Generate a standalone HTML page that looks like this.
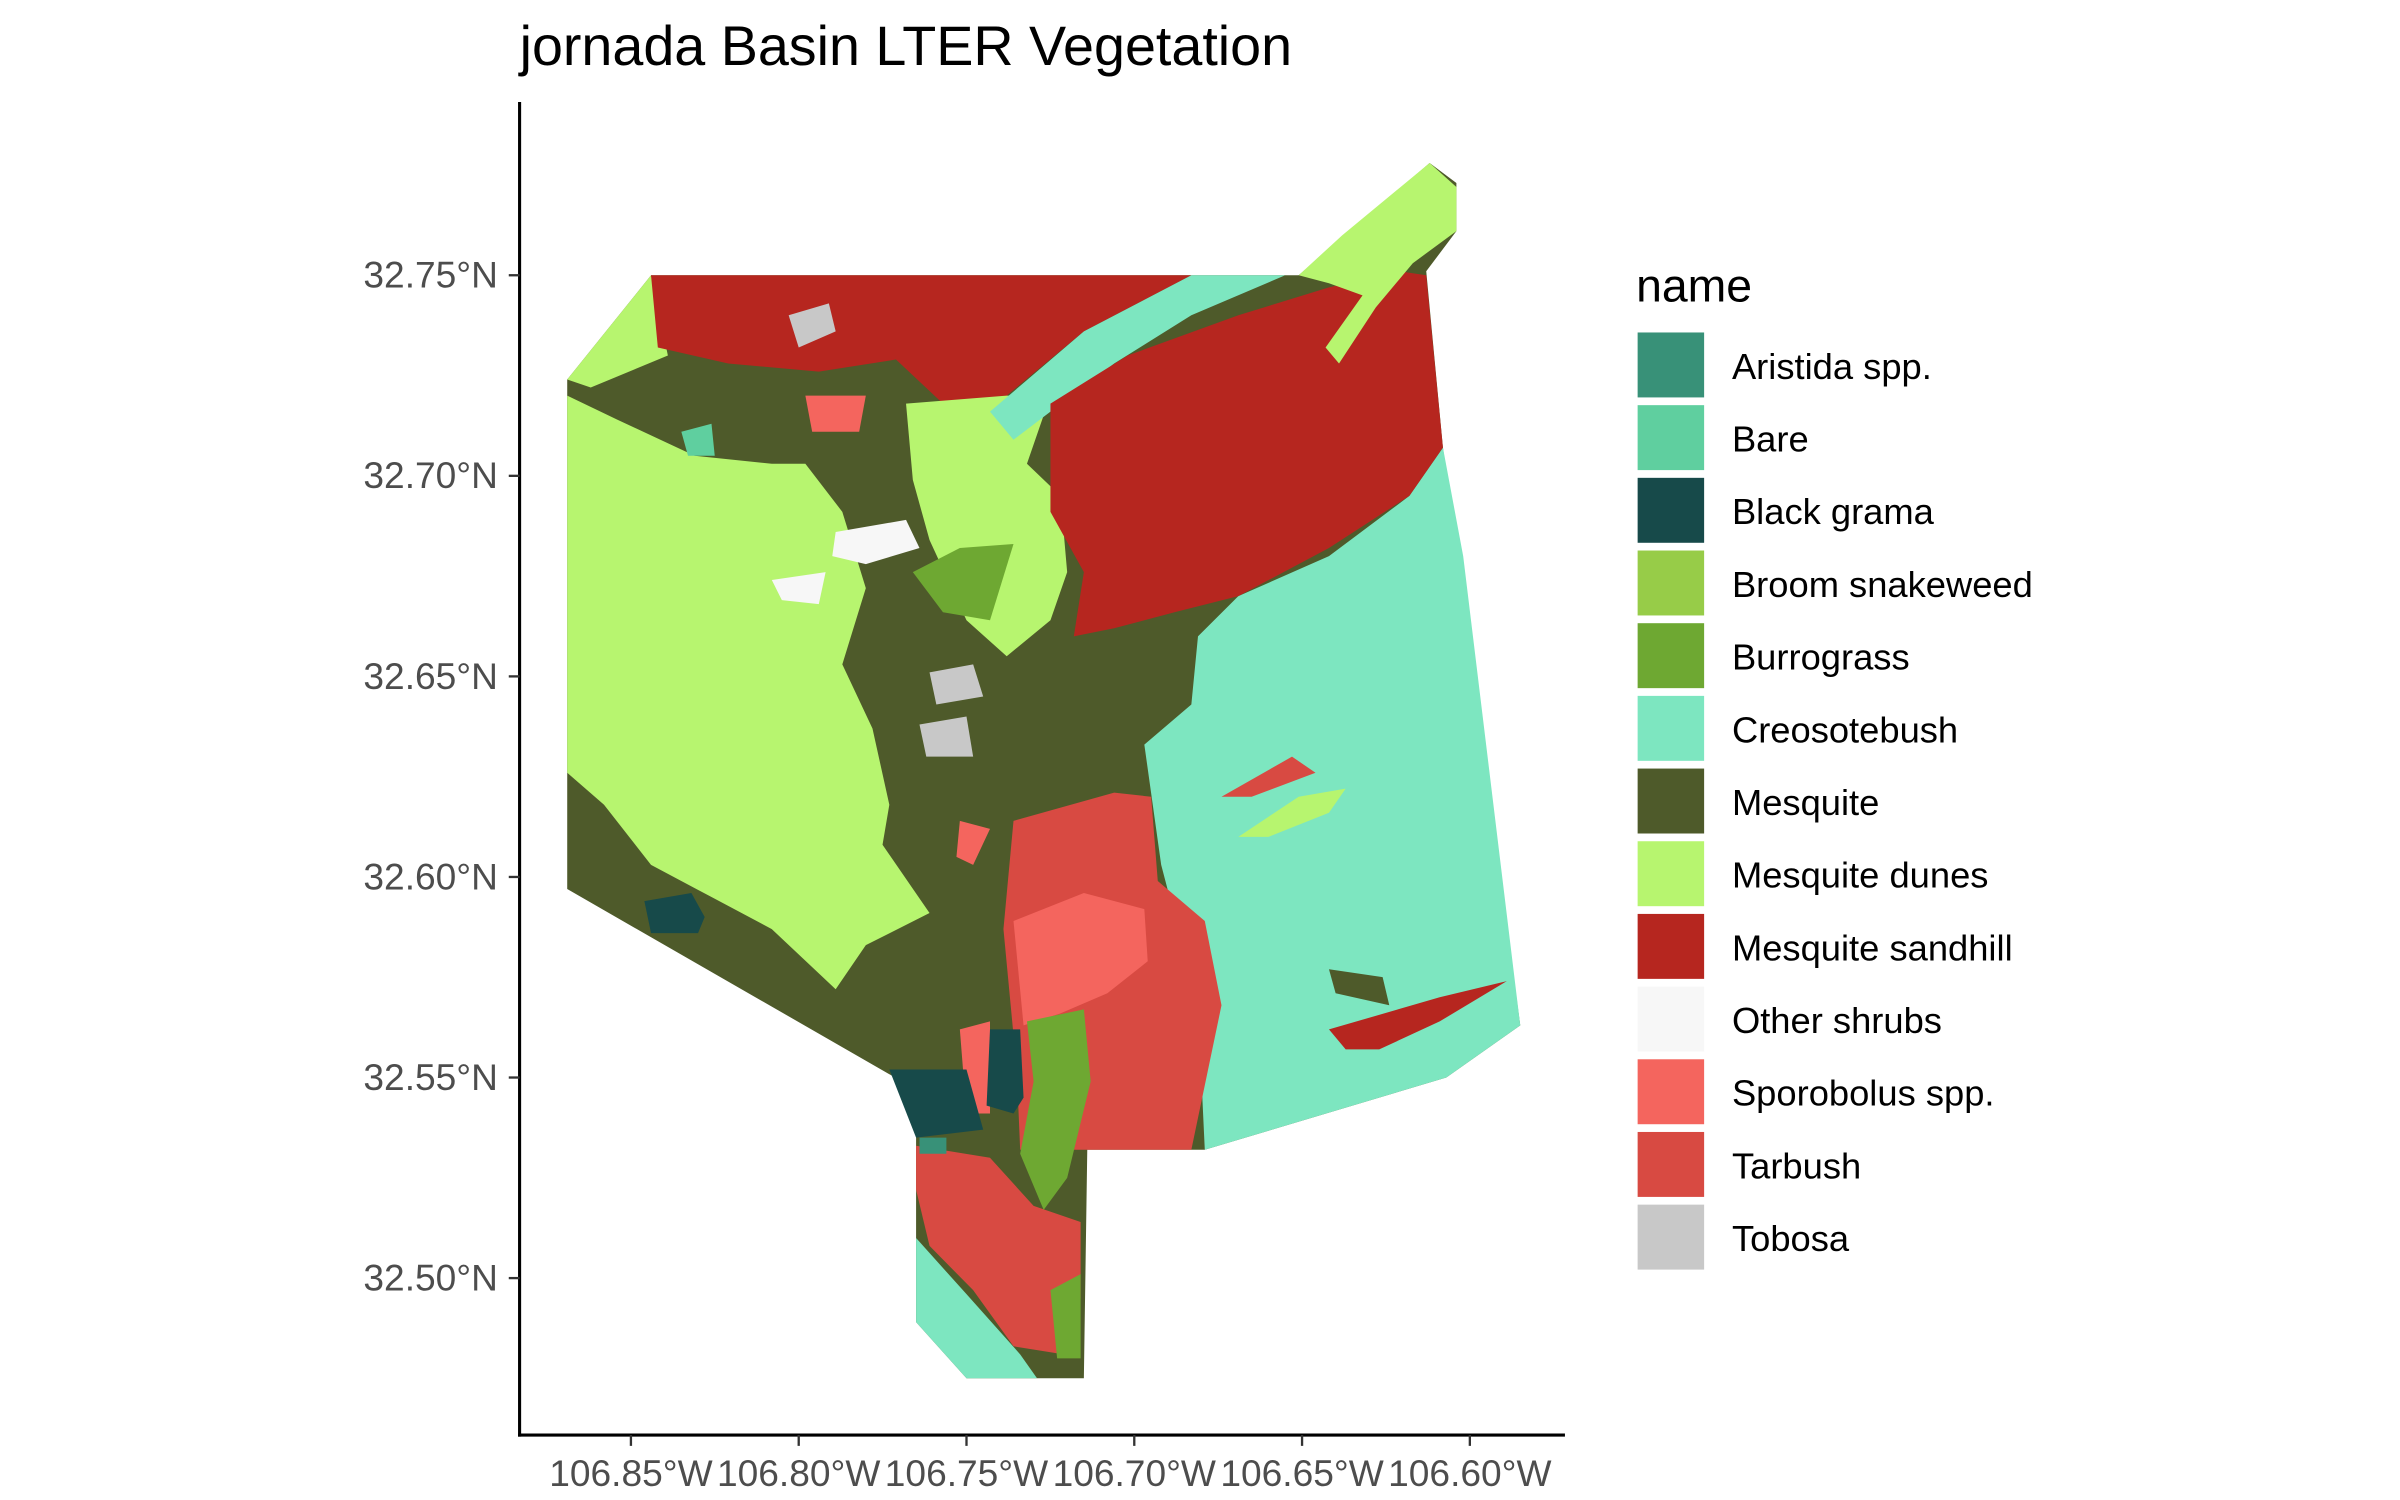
<!DOCTYPE html>
<html><head><meta charset="utf-8"><style>
html,body{margin:0;padding:0;background:#fff;}
svg{display:block;font-family:"Liberation Sans",Arial,sans-serif;}
</style></head><body>
<svg id="chart" width="2400" height="1500" viewBox="0 0 1552 970" preserveAspectRatio="none" xmlns="http://www.w3.org/2000/svg">
<rect width="1552" height="970" fill="#fff"/>
<text x="336" y="42" font-size="36" fill="#000">jornada Basin LTER Vegetation</text>
<g id="map"></g>
<g id="axes"></g>
<g id="legend"></g>
</svg>
<script>
const categories = ["Aristida spp.","Bare","Black grama","Broom snakeweed","Burrograss","Creosotebush","Mesquite","Mesquite dunes","Mesquite sandhill","Other shrubs","Sporobolus spp.","Tarbush","Tobosa"];
const catColors = ["#389178","#5fcf9f","#174a4a","#97cc48","#6ea832","#7de6c0","#4e5a2a","#b7f56f","#b6261f","#f7f7f7","#f4655e","#d84a42","#c8c8c8"];
const latTicks = [32.75,32.70,32.65,32.60,32.55,32.50];
const latLabels = ["32.75°N","32.70°N","32.65°N","32.60°N","32.55°N","32.50°N"];
const lonTicks = [-106.85,-106.80,-106.75,-106.70,-106.65,-106.60];
const lonLabels = ["106.85°W","106.80°W","106.75°W","106.70°W","106.65°W","106.60°W"];
const regionCats = [
 "Mesquite","Mesquite dunes","Mesquite dunes","Mesquite sandhill","Mesquite dunes","Creosotebush","Creosotebush","Mesquite sandhill","Mesquite dunes",
 "Tarbush","Sporobolus spp.","Sporobolus spp.","Tarbush","Creosotebush","Burrograss","Burrograss","Burrograss",
 "Black grama","Black grama","Black grama","Tobosa","Tobosa","Tobosa","Other shrubs","Other shrubs",
 "Tarbush","Mesquite dunes","Mesquite","Mesquite sandhill","Sporobolus spp.","Sporobolus spp.","Bare","Aristida spp."
];
const regionCoords = [
 [[-106.869,32.724],[-106.844,32.750],[-106.651,32.750],[-106.612,32.778],[-106.604,32.773],[-106.604,32.761],[-106.613,32.751],[-106.608,32.707],[-106.585,32.563],[-106.607,32.550],[-106.679,32.532],[-106.714,32.532],[-106.715,32.475],[-106.750,32.475],[-106.765,32.489],[-106.765,32.547],[-106.869,32.597]],
 [[-106.869,32.724],[-106.844,32.750],[-106.839,32.730],[-106.862,32.722]],
 [[-106.869,32.720],[-106.854,32.714],[-106.831,32.705],[-106.808,32.703],[-106.798,32.703],[-106.787,32.691],[-106.780,32.672],[-106.787,32.653],[-106.778,32.637],[-106.773,32.618],[-106.775,32.608],[-106.761,32.591],[-106.780,32.583],[-106.789,32.572],[-106.808,32.587],[-106.826,32.595],[-106.844,32.603],[-106.858,32.618],[-106.869,32.626]],
 [[-106.844,32.750],[-106.683,32.750],[-106.715,32.736],[-106.738,32.720],[-106.757,32.718],[-106.771,32.729],[-106.794,32.726],[-106.821,32.728],[-106.842,32.732]],
 [[-106.768,32.718],[-106.738,32.720],[-106.725,32.720],[-106.732,32.703],[-106.722,32.695],[-106.720,32.676],[-106.725,32.664],[-106.738,32.655],[-106.750,32.664],[-106.761,32.684],[-106.766,32.699]],
 [[-106.608,32.707],[-106.602,32.680],[-106.585,32.563],[-106.607,32.550],[-106.679,32.532],[-106.681,32.568],[-106.692,32.603],[-106.697,32.633],[-106.683,32.643],[-106.681,32.660],[-106.669,32.670],[-106.642,32.680],[-106.618,32.695]],
 [[-106.743,32.716],[-106.715,32.736],[-106.683,32.750],[-106.655,32.750],[-106.683,32.740],[-106.706,32.728],[-106.725,32.716],[-106.736,32.709]],
 [[-106.725,32.718],[-106.702,32.730],[-106.669,32.740],[-106.642,32.747],[-106.621,32.751],[-106.613,32.750],[-106.608,32.707],[-106.618,32.695],[-106.642,32.682],[-106.669,32.670],[-106.688,32.666],[-106.706,32.662],[-106.718,32.660],[-106.715,32.676],[-106.725,32.691]],
 [[-106.651,32.750],[-106.638,32.760],[-106.612,32.778],[-106.604,32.772],[-106.604,32.761],[-106.617,32.753],[-106.628,32.742],[-106.639,32.728],[-106.643,32.732],[-106.632,32.745],[-106.642,32.748]],
 [[-106.736,32.614],[-106.706,32.621],[-106.695,32.620],[-106.693,32.599],[-106.679,32.589],[-106.674,32.568],[-106.683,32.532],[-106.734,32.532],[-106.735,32.552],[-106.739,32.587]],
 [[-106.736,32.589],[-106.715,32.596],[-106.697,32.592],[-106.696,32.579],[-106.708,32.571],[-106.722,32.566],[-106.733,32.563]],
 [[-106.752,32.562],[-106.743,32.564],[-106.743,32.541],[-106.750,32.541]],
 [[-106.765,32.533],[-106.743,32.530],[-106.730,32.518],[-106.716,32.514],[-106.716,32.495],[-106.721,32.481],[-106.736,32.483],[-106.748,32.497],[-106.761,32.508],[-106.765,32.522]],
 [[-106.765,32.510],[-106.750,32.496],[-106.734,32.481],[-106.729,32.475],[-106.750,32.475],[-106.765,32.489]],
 [[-106.732,32.564],[-106.715,32.567],[-106.713,32.549],[-106.720,32.525],[-106.727,32.517],[-106.734,32.531],[-106.730,32.549]],
 [[-106.725,32.497],[-106.716,32.501],[-106.716,32.480],[-106.723,32.480]],
 [[-106.766,32.676],[-106.752,32.682],[-106.736,32.683],[-106.743,32.664],[-106.757,32.666]],
 [[-106.773,32.552],[-106.750,32.552],[-106.745,32.537],[-106.765,32.535]],
 [[-106.743,32.562],[-106.734,32.562],[-106.733,32.545],[-106.736,32.541],[-106.744,32.543]],
 [[-106.846,32.594],[-106.832,32.596],[-106.828,32.590],[-106.830,32.586],[-106.844,32.586]],
 [[-106.761,32.651],[-106.748,32.653],[-106.745,32.645],[-106.759,32.643]],
 [[-106.764,32.638],[-106.750,32.640],[-106.748,32.630],[-106.762,32.630]],
 [[-106.803,32.740],[-106.791,32.743],[-106.789,32.736],[-106.800,32.732]],
 [[-106.789,32.686],[-106.768,32.689],[-106.764,32.682],[-106.780,32.678],[-106.790,32.680]],
 [[-106.808,32.674],[-106.792,32.676],[-106.794,32.668],[-106.805,32.669]],
 [[-106.674,32.620],[-106.653,32.630],[-106.646,32.626],[-106.665,32.620]],
 [[-106.669,32.610],[-106.651,32.620],[-106.637,32.622],[-106.642,32.616],[-106.660,32.610]],
 [[-106.642,32.577],[-106.626,32.575],[-106.624,32.568],[-106.640,32.571]],
 [[-106.642,32.562],[-106.609,32.570],[-106.589,32.574],[-106.609,32.564],[-106.627,32.557],[-106.637,32.557]],
 [[-106.798,32.720],[-106.780,32.720],[-106.782,32.711],[-106.796,32.711]],
 [[-106.752,32.614],[-106.743,32.612],[-106.748,32.603],[-106.753,32.605]],
 [[-106.835,32.711],[-106.826,32.713],[-106.825,32.705],[-106.833,32.705]],
 [[-106.764,32.535],[-106.756,32.535],[-106.756,32.531],[-106.764,32.531]]
];
const NS="http://www.w3.org/2000/svg";
function xScale(lon){return 408+(lon+106.85)*2170;}
function yScale(lat){return 178+(32.75-lat)*2594;}
function colorOf(c){return catColors[categories.indexOf(c)];}
const map=document.getElementById('map');
regionCoords.forEach((pts,i)=>{
 const p=document.createElementNS(NS,'polygon');
 p.setAttribute('points',pts.map(q=>xScale(q[0]).toFixed(1)+','+yScale(q[1]).toFixed(1)).join(' '));
 p.setAttribute('fill',colorOf(regionCats[i]));
 
 
 map.appendChild(p);
});
const axes=document.getElementById('axes');
function mk(tag,attrs,parent){const e=document.createElementNS(NS,tag);for(const k in attrs)e.setAttribute(k,attrs[k]);parent.appendChild(e);return e;}
const yl=mk('line',{x1:336,y1:66,x2:336,y2:929,stroke:'#000','stroke-width':2},axes);


const xl=mk('line',{x1:335,y1:928,x2:1012,y2:928,stroke:'#000','stroke-width':2},axes);


latTicks.forEach((v,i)=>{
 const y=yScale(v);
 const t=mk('line',{x1:329,y1:y,x2:336,y2:y,stroke:'#333','stroke-width':1.5},axes);
 
 
 const tx=mk('text',{x:322,y:y+8,'text-anchor':'end','font-size':24,fill:'#4d4d4d'},axes);
 tx.textContent=latLabels[i];
 
 
});
lonTicks.forEach((v,i)=>{
 const x=xScale(v);
 const t=mk('line',{x1:x,y1:928,x2:x,y2:935,stroke:'#333','stroke-width':1.5},axes);
 
 
 const tx=mk('text',{x:x,y:961,'text-anchor':'middle','font-size':24,fill:'#4d4d4d'},axes);
 tx.textContent=lonLabels[i];
 
 
});
const lg=document.getElementById('legend');
const lt=mk('text',{x:1058,y:195,'font-size':30,fill:'#000'},lg);
lt.textContent='name';


categories.forEach((c,i)=>{
 const y=215+i*47;
 const r=mk('rect',{x:1059,y:y,width:43,height:42,fill:catColors[i]},lg);
 
 
 const t=mk('text',{x:1120,y:y+30,'font-size':23.5,fill:'#000'},lg);
 t.textContent=c;
 
 
});
</script>
</body></html>
